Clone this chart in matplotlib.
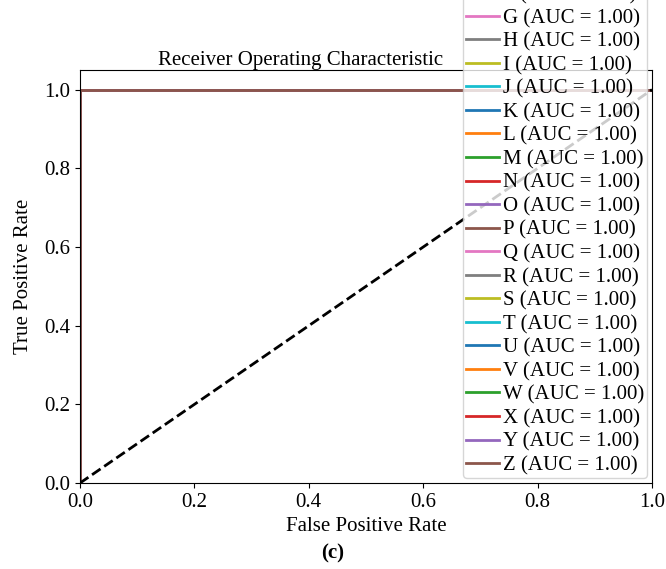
import numpy as np
import matplotlib
matplotlib.use("Agg")
import matplotlib.pyplot as plt

plt.rcParams['font.family'] = ['Liberation Serif', 'DejaVu Serif']
plt.rcParams['font.size'] = 15

# one ROC curve per class, all perfect classifiers
classes = [chr(c) for c in range(ord('A'), ord('Z') + 1)]
fpr = [0.0, 0.0, 1.0]
tpr = [0.0, 1.0, 1.0]
auc_values = [1.00] * len(classes)
chance_x = [0.0, 1.0]
chance_y = [0.0, 1.0]

fig = plt.figure(figsize=(6.66, 5.69), dpi=100)
ax = fig.add_axes([0.120, 0.151, 0.859, 0.726])

colors = plt.rcParams['axes.prop_cycle'].by_key()['color']
for i, (name, auc) in enumerate(zip(classes, auc_values)):
    ax.plot(fpr, tpr, color=colors[i % len(colors)], lw=2,
            label=f'{name} (AUC = {auc:.2f})')

ax.plot(chance_x, chance_y, 'k--', lw=2)
ax.set_xlim([0.0, 1.0])
ax.set_ylim([0.0, 1.05])
ax.set_xlabel('False Positive Rate')
ax.set_ylabel('True Positive Rate', labelpad=8)
ax.set_title('Receiver Operating Characteristic', fontsize=15, x=0.386, pad=3)
ax.legend(loc='lower right', borderaxespad=0.25, labelspacing=0.19,
          handlelength=1.6, handletextpad=0.2, borderpad=0.12)

fig.text(0.5, 0.028, '(c)', ha='center', va='center', fontweight='bold')

fig.savefig('out.png', dpi=100)
